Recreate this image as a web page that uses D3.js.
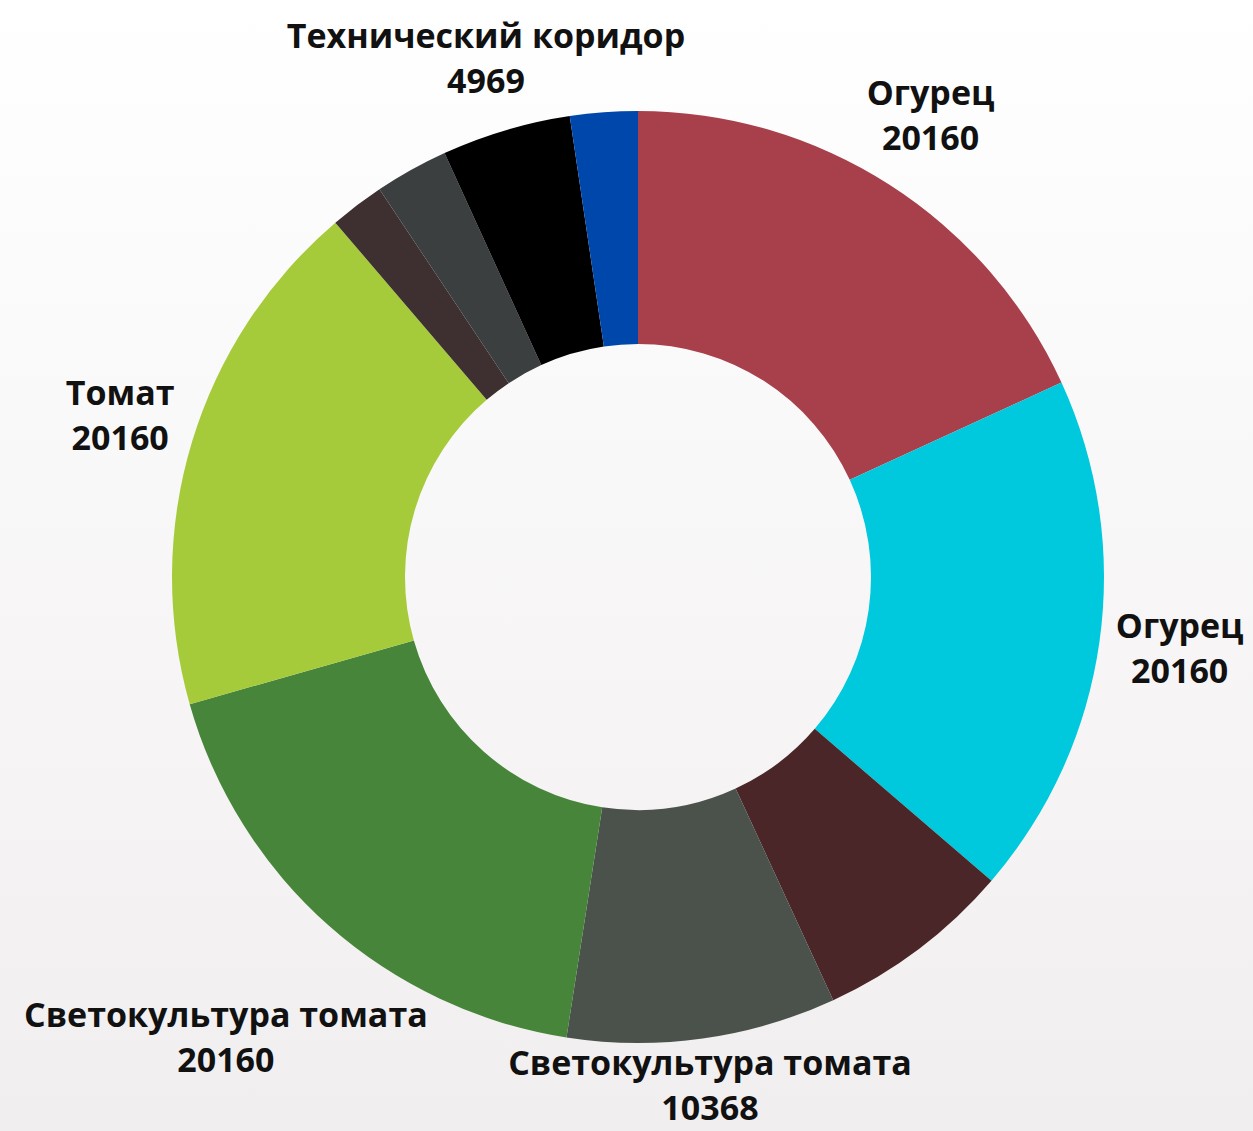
<!DOCTYPE html>
<html>
<meta charset="utf-8">
<script src="https://d3js.org/d3.v7.min.js"></script>
<style>
  body { margin: 0; }
  text { font-family: "Open Sans", sans-serif; font-weight: 700; fill: #111; }
</style>
<div id="donut_div"></div>
<script>

var width = 1253, height = 1131;

// slices, clockwise from 12 o'clock
var names  = ["Огурец", "Огурец", null, "Светокультура томата", "Светокультура томата", "Томат", null, null, "Технический коридор", null];
var values = [20160, 20160, 7580, 10368, 20160, 20160, 2100, 2830, 4969, 2600];
var colors = ["#a8404c", "#00c8dd", "#4b2628", "#4b524b", "#47863a", "#a6cb3a", "#3e3030", "#3b3f40", "#000000", "#0047ab"];

var cx = 638, cy = 577,
  outerR = 466, innerR = 233;

var svg = d3.select("#donut_div")
.append("svg")
  .attr("width", width)
  .attr("height", height);

var grad = svg.append("defs").append("linearGradient")
  .attr("id", "bg")
  .attr("x1", 0).attr("y1", 0).attr("x2", 0).attr("y2", 1);
grad.append("stop").attr("offset", "0%").attr("stop-color", "#ffffff");
grad.append("stop").attr("offset", "100%").attr("stop-color", "#f1eeef");

svg.append("rect")
  .attr("width", width)
  .attr("height", height)
  .attr("fill", "url(#bg)");

var g = svg.append("g")
  .attr("transform", "translate(" + cx + "," + cy + ")");

var data = values.map(function(v, i) {
  return {name: names[i], value: v, color: colors[i]};
});

var pie = d3.pie()
  .sort(null)
  .value(function(d) { return d.value; });

var arc = d3.arc()
  .innerRadius(innerR)
  .outerRadius(outerR);

var arcs = pie(data);

g.selectAll("path")
  .data(arcs)
  .enter()
  .append("path")
  .attr("d", arc)
  .attr("fill", function(d) { return d.data.color; });

// labels: two lines, pushed out along the mid angle until clear of the ring
var fs = 34, lineH = 45, capH = 24, gap = 13, lift = 5;
var boxH = lineH + capH;

var labels = g.selectAll("g.label")
  .data(arcs.filter(function(d) { return d.data.name; }))
  .enter()
  .append("g")
  .attr("class", "label");

labels.append("text")
  .attr("text-anchor", "middle")
  .attr("y", -boxH / 2 + capH - lift)
  .style("font-size", fs + "px")
  .text(function(d) { return d.data.name; });

labels.append("text")
  .attr("text-anchor", "middle")
  .attr("y", -boxH / 2 + capH + lineH - lift)
  .style("font-size", fs + "px")
  .text(function(d) { return d.data.value; });

labels.attr("transform", function(d) {
  var w = 0;
  d3.select(this).selectAll("text").each(function() {
    w = Math.max(w, this.getComputedTextLength());
  });
  var a = (d.startAngle + d.endAngle) / 2;
  var r = outerR, x, y;
  for (; r < outerR + 300; r += 1) {
    x = r * Math.sin(a);
    y = -r * Math.cos(a);
    var nx = Math.max(x - w / 2, Math.min(0, x + w / 2));
    var ny = Math.max(y - boxH / 2, Math.min(0, y + boxH / 2));
    if (Math.sqrt(nx * nx + ny * ny) >= outerR + gap) break;
  }
  return "translate(" + x + "," + y + ")";
});

</script>
</html>
